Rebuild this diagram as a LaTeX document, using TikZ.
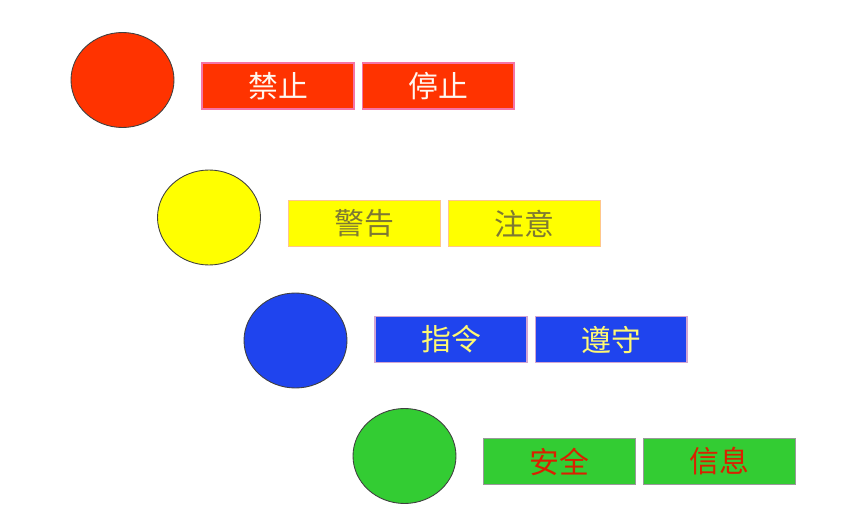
\documentclass[tikz,border=0pt]{standalone}
\usepackage{fontspec}
\newfontfamily\cjk{Noto Sans CJK SC}
\usetikzlibrary{shapes.geometric, positioning}

\definecolor{sigred}{HTML}{FF3300}
\definecolor{sigyellow}{HTML}{FFFF00}
\definecolor{sigblue}{HTML}{1F44EE}
\definecolor{siggreen}{HTML}{33CC33}

\tikzset{
  lamp/.style={ellipse, draw=black!75, line width=0.5pt,
    minimum width=2.06cm, minimum height=1.9cm, inner sep=0pt},
  tag/.style={rectangle, line width=0.6pt, minimum width=3.04cm,
    minimum height=0.92cm, inner sep=0pt,
    font=\cjk\fontsize{17}{19}\selectfont},
}

\begin{document}
\begin{tikzpicture}[x=0.02cm, y=-0.02cm]
  \useasboundingbox (0,0) rectangle (867,520);
  % prohibition
  \node[lamp, fill=sigred] (red) at (122.5,80) {};
  \node[tag, fill=sigred, draw=magenta!40!pink, text=white!94!orange] (redA) at (278,86) {禁止};
  \node[tag, fill=sigred, draw=magenta!40!pink, text=white!94!orange, right=0.14cm of redA] (redB) {停止};
  % warning
  \node[lamp, fill=sigyellow] (yellow) at (209,217.5) {};
  \node[tag, fill=sigyellow, draw=orange!45, text=olive!70!gray!85!black] (yellowA) at (364.5,223.5) {警告};
  \node[tag, fill=sigyellow, draw=orange!45, text=olive!70!gray!85!black, right=0.14cm of yellowA] (yellowB) {注意};
  % mandatory
  \node[lamp, fill=sigblue] (blue) at (295.5,340.5) {};
  \node[tag, fill=sigblue, draw=violet!35, text=yellow!55] (blueA) at (451,339.5) {指令};
  \node[tag, fill=sigblue, draw=violet!35, text=yellow!55, right=0.14cm of blueA] (blueB) {遵守};
  % safe condition
  \node[lamp, fill=siggreen] (green) at (404.5,456) {};
  \node[tag, fill=siggreen, draw=gray!80, text=red!70!orange!85!black] (greenA) at (559.5,461.5) {安全};
  \node[tag, fill=siggreen, draw=gray!80, text=red!70!orange!85!black, right=0.14cm of greenA] (greenB) {信息};
\end{tikzpicture}
\end{document}
